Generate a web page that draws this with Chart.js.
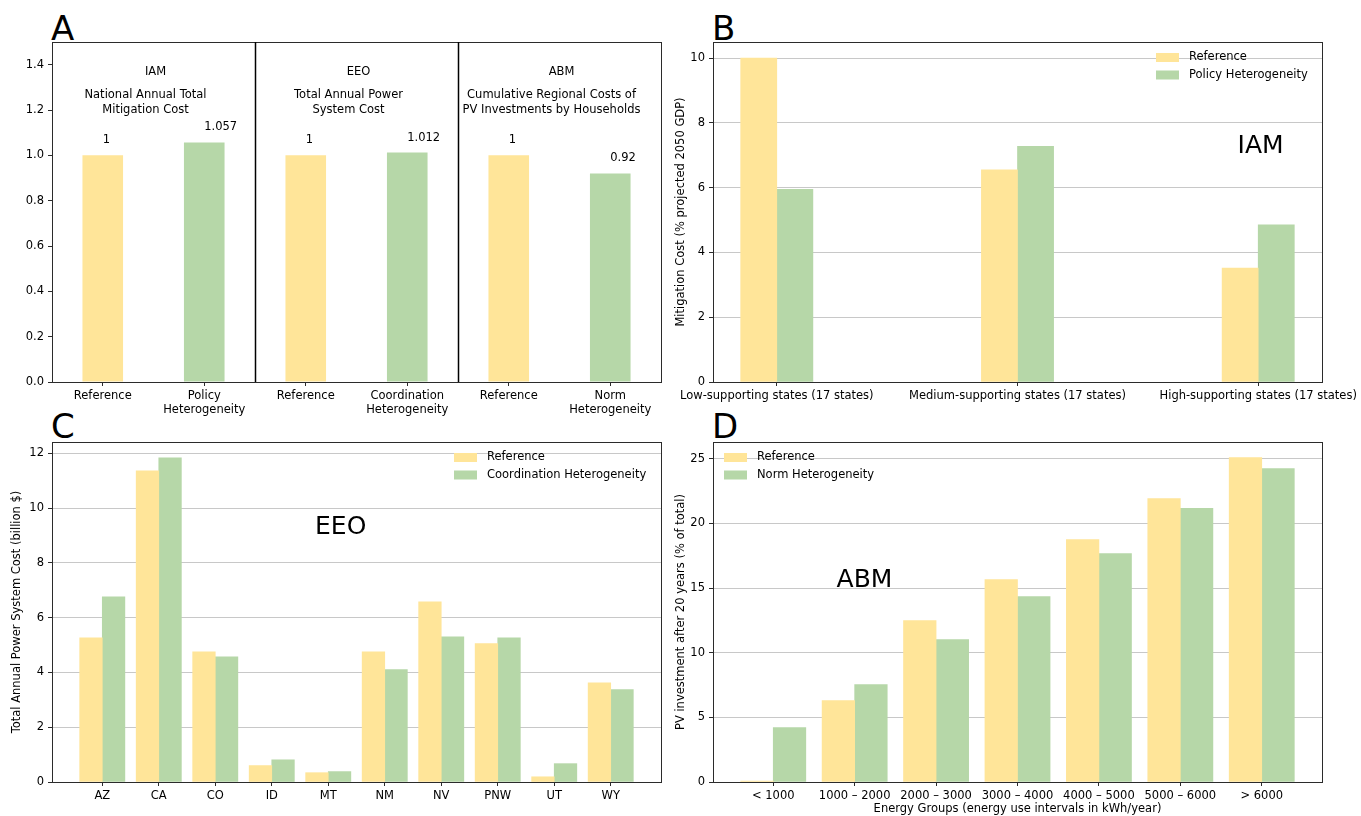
<!DOCTYPE html>
<html>
<head>
<meta charset="utf-8">
<script src="https://cdn.jsdelivr.net/npm/chart.js@4.4.1/dist/chart.umd.min.js"></script>
<style>
  body { margin: 0; background: #fff; width: 1361px; height: 816px; overflow: hidden; position: relative; font-family: "DejaVu Sans", sans-serif; }
  canvas { position: absolute; left: 0; top: 0; }
  .letter { position: absolute; font-size: 34px; line-height: 34px; color: #000; }
</style>
</head>
<body>
<div class="letter" style="left:51px;top:11px">A</div>
<div class="letter" style="left:712px;top:11px">B</div>
<div class="letter" style="left:51px;top:409px">C</div>
<div class="letter" style="left:712px;top:409px">D</div>
<canvas id="chartA" width="1400" height="830"></canvas>
<canvas id="chartB" width="1400" height="830"></canvas>
<canvas id="chartC" width="1400" height="830"></canvas>
<canvas id="chartD" width="1400" height="830"></canvas>
<script>
// Panel A - normalised totals for the three models
const summaryLabels = [['Reference'], ['Policy', 'Heterogeneity'], ['Reference'], ['Coordination', 'Heterogeneity'], ['Reference'], ['Norm', 'Heterogeneity']];
const summaryValues = [1, 1.057, 1, 1.012, 1, 0.92];
const summaryText = ['1', '1.057', '1', '1.012', '1', '0.92'];
const modelNames = ['IAM', 'EEO', 'ABM'];
const modelMetrics = [
    ['National Annual Total', 'Mitigation Cost'],
    ['Total Annual Power', 'System Cost'],
    ['Cumulative Regional Costs of', 'PV Investments by Households'],
];

// Panel B - IAM mitigation cost by state group
const stateGroups = ['Low-supporting states (17 states)', 'Medium-supporting states (17 states)', 'High-supporting states (17 states)'];
const iamReference = [10.0, 6.55, 3.52];
const iamPolicy = [5.95, 7.28, 4.85];

// Panel C - EEO power system cost by region
const regions = ['AZ', 'CA', 'CO', 'ID', 'MT', 'NM', 'NV', 'PNW', 'UT', 'WY'];
const eeoReference = [5.26, 11.36, 4.75, 0.60, 0.34, 4.75, 6.58, 5.05, 0.19, 3.62];
const eeoCoordination = [6.76, 11.83, 4.57, 0.81, 0.38, 4.10, 5.30, 5.26, 0.67, 3.37];

// Panel D - ABM PV investment by energy group
const energyGroups = ['< 1000', '1000 – 2000', '2000 – 3000', '3000 – 4000', '4000 – 5000', '5000 – 6000', '> 6000'];
const abmReference = [0.08, 6.3, 12.49, 15.66, 18.76, 21.93, 25.10];
const abmNorm = [4.2, 7.53, 11.02, 14.34, 17.67, 21.16, 24.25];

// canvases are a little larger than the page so edge labels never squeeze a plot
const W = 1400, H = 830;
const YELLOW = '#ffe599';
const GREEN = '#b6d7a8';
const SPINE = '#2b2b2b';
const GRID = '#c8c8c8';
const FAMILY = '"DejaVu Sans", sans-serif';
const TICK_SIZE = 11.5;

Chart.defaults.font.family = FAMILY;
Chart.defaults.font.size = TICK_SIZE;
Chart.defaults.color = '#000';

// every chart gets a full-page canvas; padding puts the plot box where it belongs
function areaLayout(rect, yWidth, xHeight) {
    const [left, top, right, bottom] = rect;
    return { padding: { left: left - yWidth, top, right: W - right, bottom: H - bottom - xHeight } };
}

const framePlugin = {
    id: 'frame',
    afterDatasetsDraw(chart) {
        const { ctx, chartArea: a } = chart;
        ctx.save();
        ctx.strokeStyle = SPINE;
        ctx.lineWidth = 1;
        ctx.strokeRect(Math.round(a.left) + 0.5, Math.round(a.top) + 0.5, Math.round(a.right - a.left), Math.round(a.bottom - a.top));
        ctx.restore();
    }
};

const summaryPlugin = {
    id: 'summaryNotes',
    afterDatasetsDraw(chart) {
        const { ctx, chartArea: a, scales: { x, y } } = chart;
        ctx.save();
        ctx.fillStyle = '#000';
        ctx.font = `${TICK_SIZE}px ${FAMILY}`;
        ctx.textBaseline = 'middle';
        ctx.textAlign = 'left';
        summaryValues.forEach((v, i) => ctx.fillText(summaryText[i], x.getPixelForValue(i), y.getPixelForValue(v) - 15));

        ctx.textAlign = 'center';
        modelNames.forEach((name, k) => {
            const mid = (x.getPixelForValue(2 * k) + x.getPixelForValue(2 * k + 1)) / 2;
            ctx.fillText(name, mid + 2, a.top + 30);
            modelMetrics[k].forEach((line, j) => ctx.fillText(line, mid - 8, a.top + 53 + j * 15));
            if (k > 0) {
                const sep = Math.round((x.getPixelForValue(2 * k - 1) + x.getPixelForValue(2 * k)) / 2) + 0.5;
                ctx.strokeStyle = '#000';
                ctx.lineWidth = 1.5;
                ctx.beginPath();
                ctx.moveTo(sep, a.top);
                ctx.lineTo(sep, a.bottom);
                ctx.stroke();
            }
        });
        ctx.restore();
    }
};

function notePlugin(text, xVal, yVal, legendAt) {
    return {
        id: 'notes',
        afterDatasetsDraw(chart) {
            const { ctx, chartArea: a, scales: { x, y } } = chart;
            ctx.save();
            ctx.fillStyle = '#000';
            ctx.font = `25px ${FAMILY}`;
            ctx.textAlign = 'center';
            ctx.textBaseline = 'middle';
            ctx.fillText(text, x.getPixelForValue(xVal), y.getPixelForValue(yVal));

            const [lx, ly] = legendAt(a);
            ctx.font = `${TICK_SIZE}px ${FAMILY}`;
            ctx.textAlign = 'left';
            chart.data.datasets.forEach((ds, i) => {
                const top = ly + i * 17.5;
                ctx.fillStyle = ds.backgroundColor;
                ctx.fillRect(lx, top, 23, 9);
                ctx.fillStyle = '#000';
                ctx.fillText(ds.label, lx + 33, top + 4.5);
            });
            ctx.restore();
        }
    };
}

new Chart(document.getElementById('chartA'), {
    type: 'bar',
    data: {
        labels: summaryLabels,
        datasets: [{
            label: 'Normalised',
            data: summaryValues,
            backgroundColor: summaryValues.map((_, i) => (i % 2 ? GREEN : YELLOW)),
            categoryPercentage: 1,
            barPercentage: 0.4,
        }]
    },
    options: {
        responsive: false,
        animation: false,
        layout: areaLayout([52, 42, 661, 382], 52, 40),
        plugins: { legend: { display: false }, tooltip: { enabled: false } },
        scales: {
            x: {
                grid: { offset: false, drawOnChartArea: false, tickLength: 4, tickColor: SPINE },
                border: { color: SPINE },
                ticks: { padding: 3, maxRotation: 0, autoSkip: false },
                afterFit: (s) => { s.height = 40; },
            },
            y: {
                min: 0,
                max: 1.5,
                ticks: { stepSize: 0.2, includeBounds: false, padding: 4, callback: (v) => v.toFixed(1) },
                grid: { drawOnChartArea: false, tickLength: 4, tickColor: SPINE },
                border: { color: SPINE },
                afterFit: (s) => { s.width = 52; },
            }
        }
    },
    plugins: [framePlugin, summaryPlugin]
});

function groupedChart(cfg) {
    const [left, , right] = cfg.rect;
    const barThickness = cfg.barUnits * (right - left) / (cfg.xMax - cfg.xMin);
    return new Chart(document.getElementById(cfg.id), {
        type: 'bar',
        data: {
            labels: cfg.categories.map((_, i) => i),
            datasets: [
                { label: 'Reference', data: cfg.reference, backgroundColor: YELLOW, barThickness },
                { label: cfg.altLabel, data: cfg.alternative, backgroundColor: GREEN, barThickness },
            ]
        },
        options: {
            responsive: false,
            animation: false,
            layout: areaLayout(cfg.rect, cfg.yWidth, cfg.xHeight),
            plugins: { legend: { display: false }, tooltip: { enabled: false } },
            scales: {
                x: {
                    type: 'linear',
                    min: cfg.xMin,
                    max: cfg.xMax,
                    offset: false,
                    grid: { offset: false, drawOnChartArea: false, tickLength: 4, tickColor: SPINE },
                    border: { color: SPINE },
                    ticks: {
                        stepSize: 1, includeBounds: false, maxTicksLimit: 40, autoSkip: false, maxRotation: 0, padding: 3,
                        callback: (v) => cfg.categories[v] ?? '',
                    },
                    title: { display: !!cfg.xTitle, text: cfg.xTitle || '', padding: 0, font: { size: TICK_SIZE } },
                    afterFit: (s) => { s.height = cfg.xHeight; },
                },
                y: {
                    min: 0,
                    max: cfg.yMax,
                    ticks: { stepSize: cfg.yStep, includeBounds: false, maxTicksLimit: 40, padding: 4 },
                    grid: { color: GRID, tickColor: SPINE, tickLength: 4 },
                    border: { color: SPINE },
                    title: { display: true, text: cfg.yTitle, padding: 0, font: { size: TICK_SIZE } },
                    afterFit: (s) => { s.width = cfg.yWidth; },
                }
            }
        },
        plugins: [framePlugin, cfg.notes]
    });
}

groupedChart({
    id: 'chartB',
    rect: [713, 42, 1322, 382], yWidth: 39, xHeight: 30,
    categories: stateGroups, reference: iamReference, alternative: iamPolicy, altLabel: 'Policy Heterogeneity',
    xMin: -0.265, xMax: 2.265, barUnits: 0.15,
    yMax: 10.5, yStep: 2,
    yTitle: 'Mitigation Cost (% projected 2050 GDP)',
    notes: notePlugin('IAM', 2.01, 7.28, (a) => [a.right - 166, a.top + 11]),
});

groupedChart({
    id: 'chartC',
    rect: [52, 442, 661, 782], yWidth: 42, xHeight: 30,
    categories: regions, reference: eeoReference, alternative: eeoCoordination, altLabel: 'Coordination Heterogeneity',
    xMin: -0.89, xMax: 9.89, barUnits: 0.4,
    yMax: 12.41, yStep: 2,
    yTitle: 'Total Annual Power System Cost (billion $)',
    notes: notePlugin('EEO', 4.22, 9.3, (a) => [a.right - 207, a.top + 11]),
});

groupedChart({
    id: 'chartD',
    rect: [713, 442, 1322, 782], yWidth: 39, xHeight: 34,
    categories: energyGroups, reference: abmReference, alternative: abmNorm, altLabel: 'Norm Heterogeneity',
    xMin: -0.74, xMax: 6.74, barUnits: 0.4,
    yMax: 26.3, yStep: 5,
    yTitle: 'PV investment after 20 years (% of total)',
    xTitle: 'Energy Groups (energy use intervals in kWh/year)',
    notes: notePlugin('ABM', 1.12, 15.6, (a) => [a.left + 11, a.top + 11]),
});
</script>
</body>
</html>
